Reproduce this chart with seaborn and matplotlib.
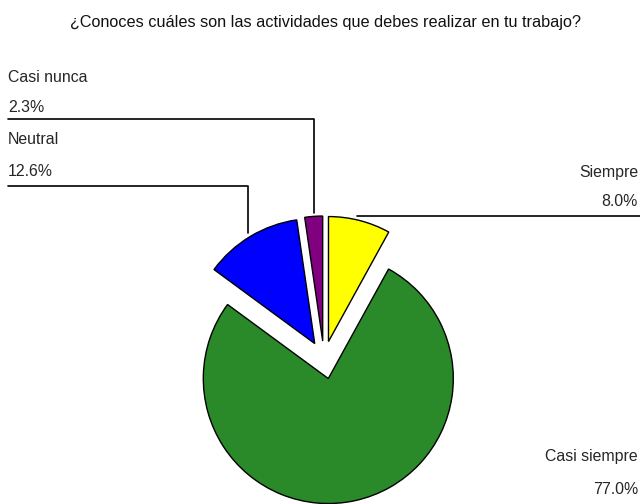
import matplotlib
matplotlib.use("Agg")
import matplotlib.pyplot as plt
import seaborn as sns
import numpy as np

sns.set_style("white")
plt.rcParams['font.family'] = ['Liberation Sans', 'DejaVu Sans']

title = "¿Conoces cuáles son las actividades que debes realizar en tu trabajo?"
categories = ["Siempre", "Casi siempre", "Neutral", "Casi nunca"]
values = [8.0, 77.0, 12.6, 2.3]
colors = ["#FFFF00", "#2A8A2A", "#0000FF", "#800080"]
explode = [18, 20, 18, 18]  # pixel offsets

W, H = 640, 504
fig = plt.figure(figsize=(W / 100, H / 100), dpi=100)
ax = fig.add_axes([0, 0, 1, 1])

R = 125
cx, cy = 324, 359
wedges, _ = ax.pie(values, colors=colors, explode=explode, startangle=-90,
                   counterclock=True, center=(cx, cy), radius=R,
                   wedgeprops=dict(edgecolor="black", linewidth=1.0),
                   frame=True)
ax.set_xlim(0, W)
ax.set_ylim(H, 0)
ax.set_aspect("equal")
ax.axis("off")

fs = 11.4
ax.text(W / 2 + 5, 22, title, ha="center", va="center", fontsize=11.7, color="#111111")

# Casi nunca
ax.text(8, 77, categories[3], ha="left", va="center", fontsize=fs)
ax.text(8, 107, f"{values[3]:.1f}%", ha="left", va="center", fontsize=fs)
ax.plot([8, 314, 314], [119, 119, 213], color="black", lw=1.2)
# Neutral
ax.text(8, 140, categories[2], ha="left", va="center", fontsize=fs)
ax.text(8, 172, f"{values[2]:.1f}%", ha="left", va="center", fontsize=fs)
ax.plot([8, 248, 248], [186, 186, 233], color="black", lw=1.2)
# Siempre
ax.text(638, 172, categories[0], ha="right", va="center", fontsize=fs)
ax.text(638, 202, f"{values[0]:.1f}%", ha="right", va="center", fontsize=fs)
ax.plot([640, 357], [216, 216], color="black", lw=1.2)
# Casi siempre
ax.text(638, 456, categories[1], ha="right", va="center", fontsize=fs)
ax.text(638, 489, f"{values[1]:.1f}%", ha="right", va="center", fontsize=fs)

fig.savefig("out.png", dpi=100, facecolor="white")
